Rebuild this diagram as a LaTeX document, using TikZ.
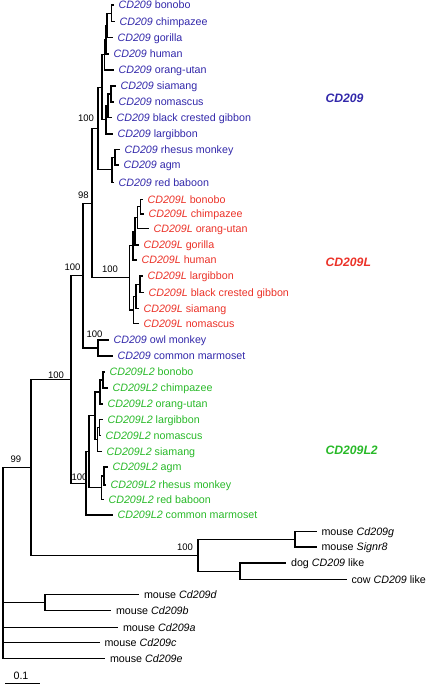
\documentclass[tikz,border=0pt]{standalone}
\usepackage{fontspec}
\setmainfont{Liberation Sans}
\definecolor{cdblue}{RGB}{50,40,170}
\definecolor{cdred}{RGB}{235,50,40}
\definecolor{cdgreen}{RGB}{40,185,40}
\newcommand{\gn}[1]{\textit{#1}}
\begin{document}
\begin{tikzpicture}[x=1pt,y=-1pt,line width=1.1pt,
    leaf/.style={anchor=west,inner xsep=4.5pt,inner ysep=0pt,text height=7.7pt,text depth=0pt,font=\fontsize{10.7}{12}\selectfont},
    boot/.style={inner sep=0pt,font=\fontsize{9.5}{11}\selectfont},
    clade/.style={anchor=west,inner sep=0pt,font=\fontsize{12.2}{14}\selectfont\bfseries\itshape}]
        \useasboundingbox (0,0) rectangle (427,685);

        % internal nodes
        \coordinate (apbc) at (111.5,13.25);
        \coordinate (apbcg) at (107,25.4);
        \coordinate (apbcgh) at (106,39.7);
        \coordinate (apgreat) at (104.5,54.9);
        \coordinate (apsn) at (111,94);
        \coordinate (apsnb) at (108,105.75);
        \coordinate (apgib) at (106,119.9);
        \coordinate (aphom) at (102,87.4);
        \coordinate (apra) at (115,157.25);
        \coordinate (apowm) at (112,169.9);
        \coordinate (cdA) at (98,128.6);
        \coordinate (lbc) at (140.5,206.75);
        \coordinate (lbco) at (137.5,217.6);
        \coordinate (lbcog) at (135,231.3);
        \coordinate (lgreat) at (133,245.6);
        \coordinate (llb) at (140,284.25);
        \coordinate (llbs) at (136,296.4);
        \coordinate (lgib) at (133.5,310);
        \coordinate (cdL) at (129.5,277.8);
        \coordinate (n98) at (92,203.2);
        \coordinate (nowl) at (98,348);
        \coordinate (n100b) at (83,275.6);
        \coordinate (mbc) at (103,380);
        \coordinate (mbco) at (100,392);
        \coordinate (mln) at (99.5,427.5);
        \coordinate (mlns) at (97.5,439.5);
        \coordinate (mape) at (95,415.75);
        \coordinate (mar) at (104,476);
        \coordinate (mowm) at (101.5,487.75);
        \coordinate (mcat) at (89,451.75);
        \coordinate (cdLL) at (86,483.4);
        \coordinate (n100a) at (71,379.5);
        \coordinate (mgs) at (295,539.25);
        \coordinate (mdc) at (240,571.25);
        \coordinate (nnp) at (198,555.25);
        \coordinate (n99) at (31,467.4);
        \coordinate (mdb) at (45,602.5);
        \coordinate (root) at (3,467.4);

        % CD209
        \node[leaf,cdblue] (a1) at (113.5,5) {\gn{CD209} bonobo};
        \node[leaf,cdblue] (a2) at (114.5,21.5) {\gn{CD209} chimpazee};
        \node[leaf,cdblue] (a3) at (112.5,37.5) {\gn{CD209} gorilla};
        \node[leaf,cdblue] (a4) at (108.5,54) {\gn{CD209} human};
        \node[leaf,cdblue] (a5) at (113.5,70) {\gn{CD209} orang-utan};
        \node[leaf,cdblue] (a6) at (115.5,86) {\gn{CD209} siamang};
        \node[leaf,cdblue] (a7) at (113.5,102) {\gn{CD209} nomascus};
        \node[leaf,cdblue] (a8) at (111.5,117.5) {\gn{CD209} black crested gibbon};
        \node[leaf,cdblue] (a9) at (112.5,134) {\gn{CD209} largibbon};
        \node[leaf,cdblue] (a10) at (119.5,149.5) {\gn{CD209} rhesus monkey};
        \node[leaf,cdblue] (a11) at (118.5,165) {\gn{CD209} agm};
        \node[leaf,cdblue] (a12) at (113.5,182.5) {\gn{CD209} red baboon};
        % CD209L
        \node[leaf,cdred] (l1) at (142.5,199.5) {\gn{CD209L} bonobo};
        \node[leaf,cdred] (l2) at (143.5,214) {\gn{CD209L} chimpazee};
        \node[leaf,cdred] (l3) at (148.5,228.5) {\gn{CD209L} orang-utan};
        \node[leaf,cdred] (l4) at (138.5,245) {\gn{CD209L} gorilla};
        \node[leaf,cdred] (l5) at (136.5,260) {\gn{CD209L} human};
        \node[leaf,cdred] (l6) at (142.5,276) {\gn{CD209L} largibbon};
        \node[leaf,cdred] (l7) at (143.5,292.5) {\gn{CD209L} black crested gibbon};
        \node[leaf,cdred] (l8) at (138.5,308.5) {\gn{CD209L} siamang};
        \node[leaf,cdred] (l9) at (138.5,323.5) {\gn{CD209L} nomascus};
        \node[leaf,cdblue] (o1) at (108.5,340) {\gn{CD209} owl monkey};
        \node[leaf,cdblue] (o2) at (112.5,356) {\gn{CD209} common marmoset};
        % CD209L2
        \node[leaf,cdgreen] (m1) at (104.5,372) {\gn{CD209L2} bonobo};
        \node[leaf,cdgreen] (m2) at (107.5,388) {\gn{CD209L2} chimpazee};
        \node[leaf,cdgreen] (m3) at (102.5,404) {\gn{CD209L2} orang-utan};
        \node[leaf,cdgreen] (m4) at (102.5,419.5) {\gn{CD209L2} largibbon};
        \node[leaf,cdgreen] (m5) at (100.5,435.5) {\gn{CD209L2} nomascus};
        \node[leaf,cdgreen] (m6) at (101.5,451.5) {\gn{CD209L2} siamang};
        \node[leaf,cdgreen] (m7) at (107.5,467) {\gn{CD209L2} agm};
        \node[leaf,cdgreen] (m8) at (105.5,485) {\gn{CD209L2} rhesus monkey};
        \node[leaf,cdgreen] (m9) at (103.5,499.5) {\gn{CD209L2} red baboon};
        \node[leaf,cdgreen] (m10) at (112.5,515) {\gn{CD209L2} common marmoset};
        % other species
        \node[leaf] (x1) at (316.5,531.5) {mouse \gn{Cd209g}};
        \node[leaf] (x2) at (316.5,547) {mouse \gn{Signr8}};
        \node[leaf] (x3) at (286,563) {dog \gn{CD209} like};
        \node[leaf] (x4) at (346.5,579.5) {cow \gn{CD209} like};
        \node[leaf] (x5) at (139,594.5) {mouse \gn{Cd209d}};
        \node[leaf] (x6) at (111,610.5) {mouse \gn{Cd209b}};
        \node[leaf] (x7) at (118,627.5) {mouse \gn{Cd209a}};
        \node[leaf] (x8) at (99.5,642.5) {mouse \gn{Cd209c}};
        \node[leaf] (x9) at (105,658.5) {mouse \gn{Cd209e}};

        % branches
        \draw (apbc) |- (a1) (apbc) |- (a2);
        \draw (apbcg) |- (apbc) (apbcg) |- (a3);
        \draw (apbcgh) |- (apbcg) (apbcgh) |- (a4);
        \draw (apgreat) |- (apbcgh) (apgreat) |- (a5);
        \draw (apsn) |- (a6) (apsn) |- (a7);
        \draw (apsnb) |- (apsn) (apsnb) |- (a8);
        \draw (apgib) |- (apsnb) (apgib) |- (a9);
        \draw (aphom) |- (apgreat) (aphom) |- (apgib);
        \draw (apra) |- (a10) (apra) |- (a11);
        \draw (apowm) |- (apra) (apowm) |- (a12);
        \draw (cdA) |- (aphom) (cdA) |- (apowm);
        \draw (lbc) |- (l1) (lbc) |- (l2);
        \draw (lbco) |- (lbc) (lbco) |- (l3);
        \draw (lbcog) |- (lbco) (lbcog) |- (l4);
        \draw (lgreat) |- (lbcog) (lgreat) |- (l5);
        \draw (llb) |- (l6) (llb) |- (l7);
        \draw (llbs) |- (llb) (llbs) |- (l8);
        \draw (lgib) |- (llbs) (lgib) |- (l9);
        \draw (cdL) |- (lgreat) (cdL) |- (lgib);
        \draw (n98) |- (cdA) (n98) |- (cdL);
        \draw (nowl) |- (o1) (nowl) |- (o2);
        \draw (n100b) |- (n98) (n100b) |- (nowl);
        \draw (mbc) |- (m1) (mbc) |- (m2);
        \draw (mbco) |- (mbc) (mbco) |- (m3);
        \draw (mln) |- (m4) (mln) |- (m5);
        \draw (mlns) |- (mln) (mlns) |- (m6);
        \draw (mape) |- (mbco) (mape) |- (mlns);
        \draw (mar) |- (m7) (mar) |- (m8);
        \draw (mowm) |- (mar) (mowm) |- (m9);
        \draw (mcat) |- (mape) (mcat) |- (mowm);
        \draw (cdLL) |- (mcat) (cdLL) |- (m10);
        \draw (n100a) |- (n100b) (n100a) |- (cdLL);
        \draw (mgs) |- (x1) (mgs) |- (x2);
        \draw (mdc) |- (x3) (mdc) |- (x4);
        \draw (nnp) |- (mgs) (nnp) |- (mdc);
        \draw (n99) |- (n100a) (n99) |- (nnp);
        \draw (mdb) |- (x5) (mdb) |- (x6);
        \draw (root) |- (n99) (root) |- (mdb) (root) |- (x7) (root) |- (x8) (root) |- (x9);

        % bootstrap values
        \node[boot] (bA) at (86,118) {100};
        \node[boot] (b98) at (83.5,195) {98};
        \node[boot] (bB) at (72.5,267) {100};
        \node[boot] (bL) at (110,269) {100};
        \node[boot] (bO) at (94.5,334) {100};
        \node[boot] (bC) at (56,375) {100};
        \node[boot] (b99) at (16,459) {99};
        \node[boot] (bLL) at (79.5,477) {100};
        \node[boot] (bN) at (185,547) {100};

        % clade names
        \node[clade,cdblue] (kA) at (325,98) {CD209};
        \node[clade,cdred] (kL) at (325,262) {CD209L};
        \node[clade,cdgreen] (kLL) at (325,450) {CD209L2};

        % scale
        \coordinate (bar0) at (5,683);
        \coordinate (bar1) at (40,683);
        \draw[line width=0.9pt] (bar0) -- (bar1);
        \node[inner sep=0pt,font=\fontsize{10.7}{12}\selectfont] (barlbl) at (21,675.5) {0.1};
\end{tikzpicture}
\end{document}
